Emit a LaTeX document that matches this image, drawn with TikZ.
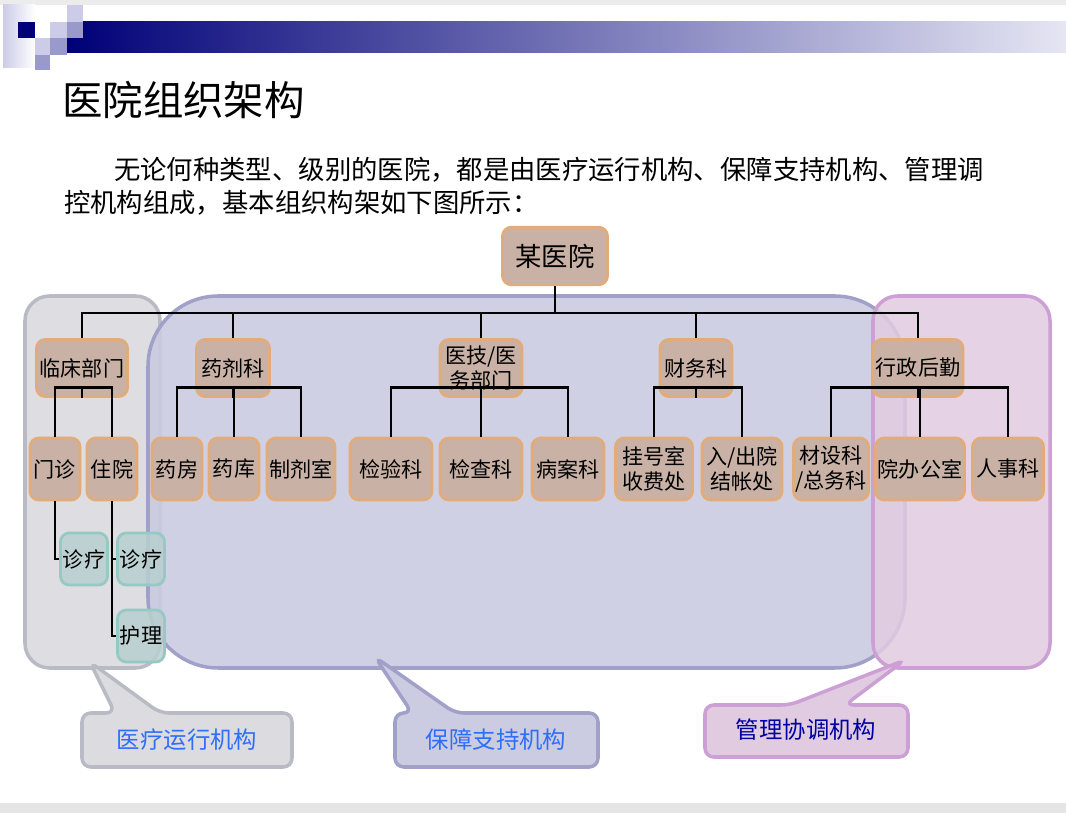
\documentclass[tikz,border=0pt]{standalone}
\usepackage{fontspec}
\setmainfont{Noto Sans CJK SC}
\usetikzlibrary{positioning,calc,shapes}
\definecolor{boxfill}{RGB}{201,178,165}
\definecolor{boxline}{RGB}{226,172,122}
\definecolor{tealfill}{RGB}{184,208,208}
\definecolor{tealline}{RGB}{150,200,196}
\definecolor{grayreg}{RGB}{219,219,224}
\definecolor{grayedge}{RGB}{186,186,196}
\definecolor{bluereg}{RGB}{203,203,225}
\definecolor{blueedge}{RGB}{160,160,200}
\definecolor{pinkreg}{RGB}{225,203,225}
\definecolor{pinkedge}{RGB}{204,160,212}
\definecolor{calltext}{RGB}{45,110,250}
\definecolor{navy}{RGB}{0,0,120}
\definecolor{lav}{RGB}{204,204,232}
\definecolor{midlav}{RGB}{153,153,204}
\tikzset{
  obox/.style={draw=boxline,fill=boxfill,line width=1.6pt,rounded corners=5pt,
    font=\fontsize{12pt}{14pt}\selectfont,align=center,inner sep=1pt},
  tbox/.style={draw=tealline,fill=tealfill,line width=1.6pt,rounded corners=5pt,
    font=\fontsize{12pt}{14pt}\selectfont,inner sep=1pt,
    minimum width=0.94cm,minimum height=1.04cm,fill opacity=.85,text opacity=1},
  link/.style={black,line width=1.6pt},
  region/.style={line width=2pt,rounded corners=14pt,fill opacity=.95},
  callout/.style={line width=2pt,rounded corners=5pt,
    font=\fontsize{13.3pt}{15pt}\selectfont}
}
\begin{document}
\begin{tikzpicture}[x=0.02cm,y=-0.02cm]
\useasboundingbox (0,0) rectangle (1066,813);

% header
\fill[gray!15] (0,0) rectangle (1066,5);
\shade[left color=lav,right color=white] (3,5) rectangle (35,68);
\shade[left color=navy,right color=lav!50] (67,22) rectangle (1066,53);
\fill[navy] (18,22) rectangle (35,38);
\fill[lav] (67,5) rectangle (83,22);
\fill[lav] (50,22) rectangle (67,38);
\fill[midlav] (67,22) rectangle (83,38);
\fill[lav] (35,38) rectangle (50,55);
\fill[midlav] (50,38) rectangle (67,55);
\fill[midlav] (35,55) rectangle (50,70);
\fill[gray!20] (0,803) rectangle (1066,813);

% title and text
\node[anchor=west,font=\fontsize{23pt}{26pt}\selectfont] (title) at (56,100) {医院组织架构};
\node[anchor=west,font=\fontsize{15pt}{18pt}\selectfont] (line1) at (108,170)
  {无论何种类型、级别的医院，都是由医疗运行机构、保障支持机构、管理调};
\node[anchor=west,font=\fontsize{15pt}{18pt}\selectfont] (line2) at (58,203)
  {控机构组成，基本组织构架如下图所示：};

% regions
\draw[region,draw=grayedge,fill=grayreg] (25,296) rectangle (160,668);
\draw[region,draw=blueedge,fill=bluereg,rounded corners=40pt,fill opacity=.9] (148,296) rectangle (905,668);
\draw[region,draw=pinkedge,fill=pinkreg,fill opacity=.85] (873,296) rectangle (1050,668);

% callouts
\draw[callout,draw=grayedge,fill=grayreg] (82,713) -- (115,713) -- (90,662) -- (160,713)
  -- (292,713) -- (292,767) -- (82,767) -- cycle;
\node[font=\fontsize{13.3pt}{15pt}\selectfont,text=calltext] (c1) at (187,740) {医疗运行机构};
\draw[callout,draw=blueedge,fill=bluereg] (395,713) -- (412,713) -- (375,657) -- (455,713)
  -- (598,713) -- (598,767) -- (395,767) -- cycle;
\node[font=\fontsize{13.3pt}{15pt}\selectfont,text=calltext] (c2) at (496,740) {保障支持机构};
\draw[callout,draw=pinkedge,fill=pinkreg] (705,705) -- (790,705) -- (905,660) -- (845,705)
  -- (908,705) -- (908,757) -- (705,757) -- cycle;
\node[font=\fontsize{13.3pt}{15pt}\selectfont,text=navy!70!blue] (c3) at (806,730) {管理协调机构};

% top
\node[obox,minimum width=2.1cm,minimum height=1.15cm,font=\fontsize{15pt}{17pt}\selectfont] (yiyuan) at (555,256) {某医院};

% level 1
\node[obox,minimum width=1.82cm,minimum height=1.14cm] (linchuang) at (82,368) {临床部门};
\node[obox,minimum width=1.46cm,minimum height=1.14cm] (yaoji) at (233,368) {药剂科};
\node[obox,minimum width=1.64cm,minimum height=1.14cm] (yiji) at (481,368) {医技/医\\务部门};
\node[obox,minimum width=1.44cm,minimum height=1.14cm] (caiwu) at (696,368) {财务科};
\node[obox,minimum width=1.8cm,minimum height=1.14cm] (xingzheng) at (918,368) {行政后勤};

% level 2
\node[obox,minimum width=1cm,minimum height=1.24cm] (menzhen) at (55,469) {门诊};
\node[obox,minimum width=1cm,minimum height=1.24cm] (zhuyuan) at (112,469) {住院};
\node[obox,minimum width=1cm,minimum height=1.24cm] (yaofang) at (177,469) {药房};
\node[obox,minimum width=1cm,minimum height=1.24cm] (yaoku) at (234,469) {药库};
\node[obox,minimum width=1.36cm,minimum height=1.24cm] (zhiji) at (301,469) {制剂室};
\node[obox,minimum width=1.64cm,minimum height=1.24cm] (jianyan) at (391,469) {检验科};
\node[obox,minimum width=1.64cm,minimum height=1.24cm] (jiancha) at (481,469) {检查科};
\node[obox,minimum width=1.44cm,minimum height=1.24cm] (bingan) at (568,469) {病案科};
\node[obox,minimum width=1.54cm,minimum height=1.24cm] (guahao) at (654,469) {挂号室\\收费处};
\node[obox,minimum width=1.6cm,minimum height=1.24cm] (ruyuan) at (742,469) {入/出院\\结帐处};
\node[obox,minimum width=1.46cm,minimum height=1.24cm] (caishe) at (831,469) {材设科\\/总务科};
\node[obox,minimum width=1.78cm,minimum height=1.24cm] (yuanban) at (920,469) {院办公室};
\node[obox,minimum width=1.42cm,minimum height=1.24cm] (renshi) at (1008,469) {人事科};

% level 3
\node[tbox] (zhenliaoA) at (84,559) {诊疗};
\node[tbox] (zhenliaoB) at (141,559) {诊疗};
\node[tbox] (huli) at (141,636) {护理};

% connectors
\coordinate (bus) at (555,313);
\draw[link] (yiyuan.south) -- (bus);
\draw[link] (linchuang.north) |- (bus) -| (xingzheng.north);
\foreach \n in {yaoji,yiji,caiwu}
  \draw[link] (\n.north) -- (\n.north |- bus);
\draw[link] (linchuang.south) -- ++(0,-10) coordinate (b1);
\draw[link] (menzhen.north) |- (b1) -| (zhuyuan.north);
\draw[link] (yaoji.south) -- ++(0,-10) coordinate (b2);
\draw[link] (yaofang.north) |- (b2) -| (zhiji.north);
\draw[link] (yaoku.north) -- (yaoku.north |- b2);
\draw[link] (yiji.south) -- ++(0,-10) coordinate (b3);
\draw[link] (jianyan.north) |- (b3) -| (bingan.north);
\draw[link] (jiancha.north) -- (jiancha.north |- b3);
\draw[link] (caiwu.south) -- ++(0,-10) coordinate (b4);
\draw[link] (guahao.north) |- (b4) -| (ruyuan.north);
\draw[link] (xingzheng.south) -- ++(0,-10) coordinate (b5);
\draw[link] (caishe.north) |- (b5) -| (renshi.north);
\draw[link] (yuanban.north) -- (yuanban.north |- b5);
\draw[link] (menzhen.south) |- (zhenliaoA.west);
\draw[link] (zhuyuan.south) |- (huli.west);
\draw[link] (zhuyuan.south |- zhenliaoB.west) -- (zhenliaoB.west);
\end{tikzpicture}
\end{document}
